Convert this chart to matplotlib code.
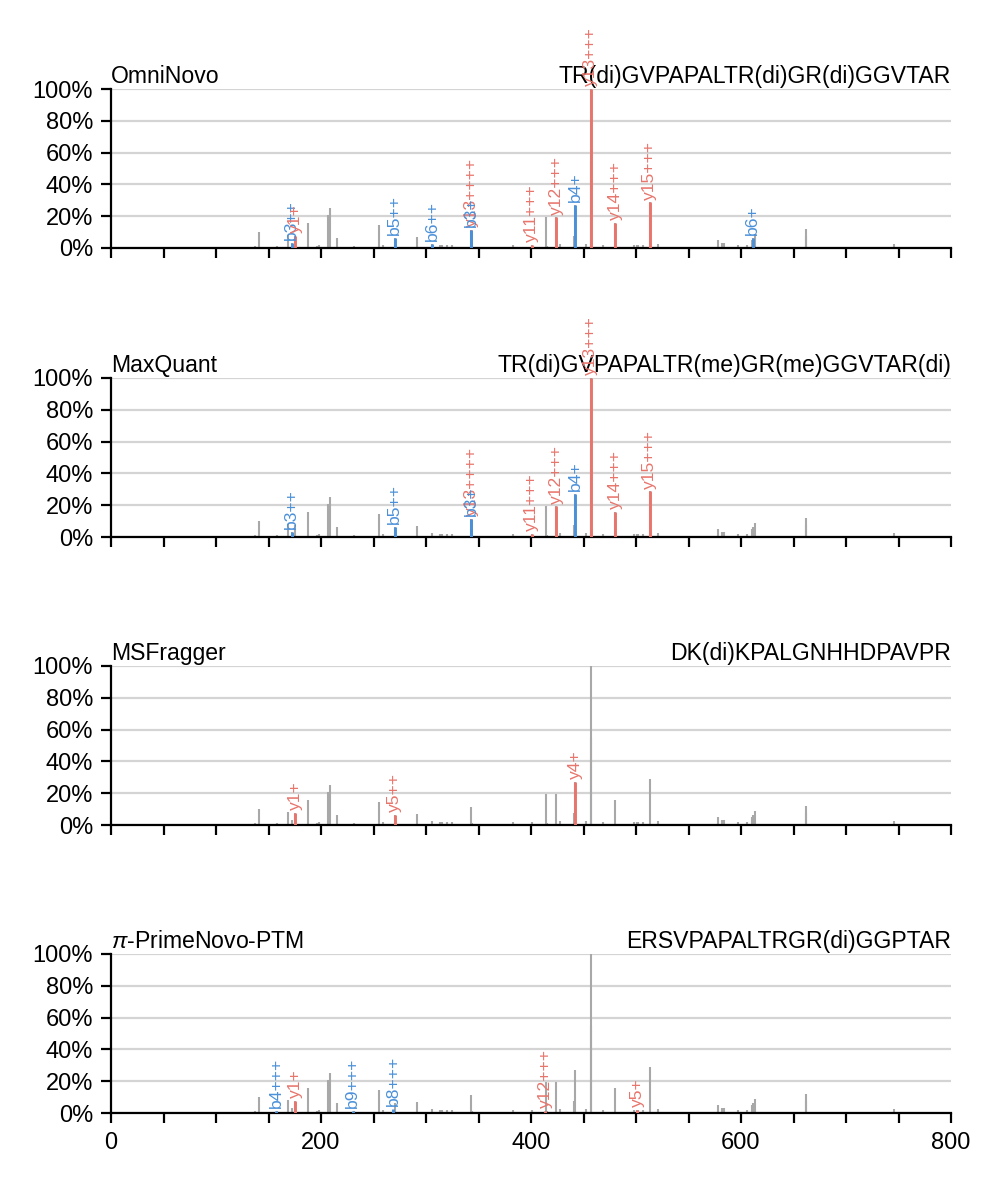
import matplotlib
matplotlib.use("Agg")
import matplotlib.pyplot as plt
from matplotlib.ticker import FixedLocator

plt.rcParams['font.family'] = ['Liberation Sans', 'DejaVu Sans']
plt.rcParams['mathtext.fontset'] = 'custom'
plt.rcParams['mathtext.it'] = 'Liberation Sans:italic'
plt.rcParams['mathtext.rm'] = 'Liberation Sans'

# ---- shared experimental spectrum (m/z, relative intensity) ----
spec_mz = [137.1, 141.3, 158.4, 168.9, 172.1, 175.2, 187.3, 196.5, 198.5, 207.0,
           208.6, 215.2, 231.4, 255.6, 259.4, 270.3, 291.4, 306.1, 313.5, 315.2,
           319.7, 325.0, 342.9, 343.8, 383.2, 400.6, 414.3, 415.1, 424.2, 427.6,
           441.0, 442.2, 452.4, 456.8, 457.2, 468.9, 480.4, 498.2, 500.5, 502.0,
           507.0, 513.0, 521.3, 578.1, 582.2, 583.6, 597.5, 605.7, 610.2, 611.5,
           613.3, 661.6, 662.3, 746.0]
spec_int = [0.015, 0.103, 0.013, 0.082, 0.03, 0.078, 0.16, 0.015, 0.02, 0.21,
            0.254, 0.063, 0.013, 0.143, 0.02, 0.065, 0.07, 0.025, 0.02, 0.02,
            0.02, 0.018, 0.113, 0.015, 0.018, 0.02, 0.197, 0.015, 0.192, 0.027,
            0.078, 0.27, 0.023, 1.0, 0.55, 0.02, 0.157, 0.02, 0.02, 0.02,
            0.02, 0.287, 0.023, 0.052, 0.03, 0.03, 0.017, 0.02, 0.048, 0.063,
            0.086, 0.12, 0.078, 0.023]

# ---- panels ----
tools = ["OmniNovo", "MaxQuant", "MSFragger", r"$\pi$-PrimeNovo-PTM"]
peptides = ["TR(di)GVPAPALTR(di)GR(di)GGVTAR",
            "TR(di)GVPAPALTR(me)GR(me)GGVTAR(di)",
            "DK(di)KPALGNHHDPAVPR",
            "ERSVPAPALTRGR(di)GGPTAR"]

omni_ions = ["b3++", "y1+", "b5++", "b6++", "y13++++", "b3+", "y11+++", "y12+++",
             "b4+", "y13+++", "y14+++", "y15+++", "b6+"]
omni_mz = [172.1, 175.2, 270.3, 306.1, 342.9, 343.2, 400.6, 424.2,
           442.2, 456.8, 480.4, 513.0, 611.0]
omni_int = [0.03, 0.078, 0.065, 0.025, 0.113, 0.113, 0.02, 0.192,
            0.27, 1.0, 0.157, 0.287, 0.063]

maxq_ions = ["b3++", "b5++", "y13++++", "b3+", "y11+++", "y12+++",
             "b4+", "y13+++", "y14+++", "y15+++"]
maxq_mz = [172.1, 270.3, 342.9, 343.2, 400.6, 424.2, 442.2, 456.8, 480.4, 513.0]
maxq_int = [0.03, 0.065, 0.113, 0.113, 0.02, 0.192, 0.27, 1.0, 0.157, 0.287]

msf_ions = ["y1+", "y5++", "y4+"]
msf_mz = [175.2, 270.0, 442.2]
msf_int = [0.078, 0.063, 0.27]

prime_ions = ["b4+++", "y1+", "b9+++", "b8+++", "y12+++", "y5+"]
prime_mz = [157.6, 175.2, 230.0, 269.0, 413.6, 501.3]
prime_int = [0.013, 0.078, 0.013, 0.025, 0.015, 0.02]

panel_ions = [omni_ions, maxq_ions, msf_ions, prime_ions]
panel_mz = [omni_mz, maxq_mz, msf_mz, prime_mz]
panel_int = [omni_int, maxq_int, msf_int, prime_int]

GRAY = "#a8a8a8"
RED = "#e8756c"
BLUE = "#4a90d9"

fig = plt.figure(figsize=(4.99, 5.92), dpi=200)
W, H = 998, 1184
tops = [89, 378, 666, 954]
axh = 159

for i in range(4):
    top = tops[i]
    ax = fig.add_axes([111 / W, 1 - (top + axh) / H, 840 / W, axh / H])
    ax.set_xlim(0, 800)
    ax.set_ylim(0, 1.0)
    ax.yaxis.grid(True, color="#d4d4d4", linewidth=0.8, zorder=0)
    ax.set_axisbelow(True)
    for s in ["top", "right"]:
        ax.spines[s].set_visible(False)
    for s in ["left", "bottom"]:
        ax.spines[s].set_linewidth(0.8)
    ax.vlines(spec_mz, 0, spec_int, color=GRAY, linewidth=0.75, zorder=2)
    for ion, mz, it in zip(panel_ions[i], panel_mz[i], panel_int[i]):
        c = BLUE if ion.startswith("b") else RED
        ax.vlines([mz], 0, [it], color=c, linewidth=1.05, zorder=3)
        ax.annotate(ion, xy=(mz, it), xytext=(0, 1.0), textcoords="offset points",
                    rotation=90, ha="center", va="bottom", fontsize=6.3, color=c,
                    zorder=4, annotation_clip=False)
    ax.xaxis.set_major_locator(FixedLocator(list(range(0, 801, 50))))
    ax.set_yticks([0, 0.2, 0.4, 0.6, 0.8, 1.0])
    ax.set_yticklabels(["0%", "20%", "40%", "60%", "80%", "100%"], fontsize=8.5)
    if i == 3:
        ax.set_xticklabels([str(v) if v % 200 == 0 else "" for v in range(0, 801, 50)],
                           fontsize=8.5)
    else:
        ax.set_xticklabels([])
    ax.tick_params(axis="x", length=3.5, width=0.8)
    ax.tick_params(axis="y", length=3.5, width=0.8, pad=3)
    ax.set_title(tools[i], loc="left", fontsize=8.3, pad=2)
    ax.set_title(peptides[i], loc="right", fontsize=8.3, pad=2)

fig.savefig("out.png", dpi=200)
